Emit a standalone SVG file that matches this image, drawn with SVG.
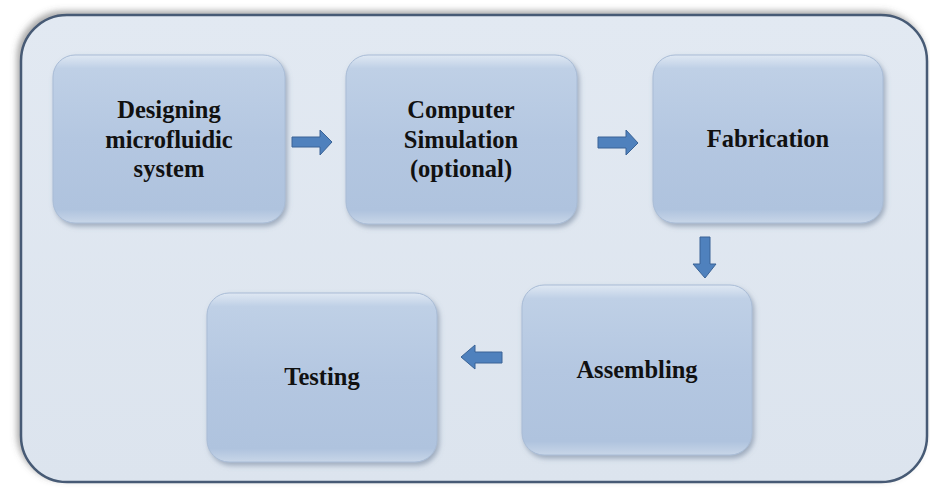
<svg xmlns="http://www.w3.org/2000/svg" width="930" height="489" viewBox="0 0 930 489">
<defs>
<style>
.node{fill:url(#ng);stroke:#a9bcd6;stroke-width:1;filter:url(#sh)}
.lbl{font-family:"Liberation Serif","Times New Roman",serif;font-weight:bold;font-size:24.5px;fill:#111;text-anchor:middle}
.arr{fill:#4f81bd;stroke:#3a6396;stroke-width:1}
</style>
<linearGradient id="ng" x1="0" y1="0" x2="0" y2="1">
<stop offset="0" stop-color="#dfe8f3"/>
<stop offset="0.08" stop-color="#bfd0e6"/>
<stop offset="0.5" stop-color="#b4c7e1"/>
<stop offset="0.92" stop-color="#afc3de"/>
<stop offset="1" stop-color="#c8d6e8"/>
</linearGradient>
<linearGradient id="bg" x1="0" y1="0" x2="0" y2="1">
<stop offset="0" stop-color="#e2e9f2"/>
<stop offset="1" stop-color="#dce4ee"/>
</linearGradient>
<filter id="sh" x="-10%" y="-10%" width="125%" height="125%">
<feDropShadow dx="2" dy="3" stdDeviation="2.5" flood-color="#6a7c94" flood-opacity="0.55"/>
</filter>
<filter id="fsh" x="-5%" y="-5%" width="110%" height="115%">
<feDropShadow dx="-3" dy="-3" stdDeviation="3" flood-color="#555" flood-opacity="0.5"/>
</filter>
</defs>
<rect width="930" height="489" fill="#ffffff"/>
<g id="frame">
<rect x="21" y="15" width="906" height="467" rx="46" ry="46" fill="url(#bg)" stroke="#465a74" stroke-width="2.5" filter="url(#fsh)"/>
</g>
<g id="n1">
<rect class="node" x="53" y="55" width="232" height="168" rx="22"/>
<text class="lbl" x="169" y="118">Designing</text>
<text class="lbl" x="169" y="148">microfluidic</text>
<text class="lbl" x="169" y="177">system</text>
</g>
<g id="n2">
<rect class="node" x="346" y="55" width="231" height="169" rx="22"/>
<text class="lbl" x="461" y="118">Computer</text>
<text class="lbl" x="461" y="148">Simulation</text>
<text class="lbl" x="461" y="177">(optional)</text>
</g>
<g id="n3">
<rect class="node" x="653" y="55" width="230" height="168" rx="22"/>
<text class="lbl" x="768" y="147">Fabrication</text>
</g>
<g id="n4">
<rect class="node" x="522" y="285" width="230" height="170" rx="22"/>
<text class="lbl" x="637" y="378">Assembling</text>
</g>
<g id="n5">
<rect class="node" x="207" y="293" width="230" height="169" rx="22"/>
<text class="lbl" x="322" y="385">Testing</text>
</g>
<g id="connectors">
<polygon class="arr" points="292,137 320,137 320,130 332,142 320,155 320,147 292,147"/>
<polygon class="arr" points="598,137 626,137 626,130 638,143 626,155 626,148 598,148"/>
<polygon class="arr" points="700,237 710,237 710,264 716,264 705,278 693,264 700,264"/>
<polygon class="arr" points="502,352 475,352 475,345 461,357 475,369 475,363 502,363"/>
</g>
</svg>
